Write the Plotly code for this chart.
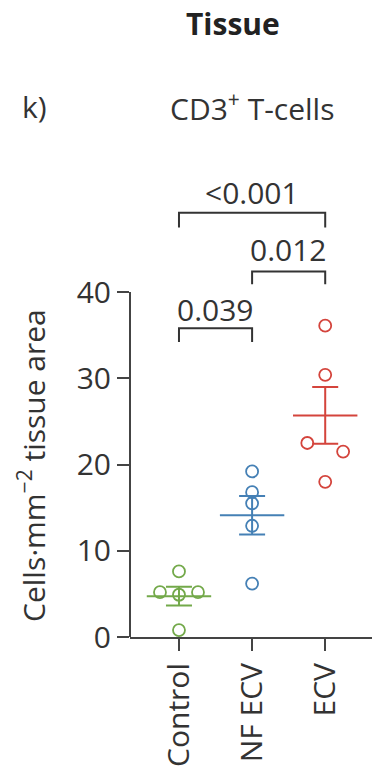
import numpy as np
import plotly.graph_objects as go

categories = ["Control", "NF ECV", "ECV"]
colors = ["#73a94a", "#4580b5", "#d4443c"]
values = [
    [7.6, 5.2, 4.9, 5.2, 0.8],
    [19.2, 16.8, 15.5, 12.9, 6.2],
    [36.1, 30.4, 22.5, 21.5, 18.0],
]
jitter = [
    [0, -0.26, 0, 0.26, 0],
    [0, 0, 0, 0, 0],
    [0, 0, -0.245, 0.245, 0],
]
y_ticks = [0, 10, 20, 30, 40]
# brackets: (from category, to category, bar height, tip height, label height, label)
brackets = [
    (0, 1, 35.8, 34.2, 38.0, "0.039"),
    (1, 2, 42.4, 40.9, 44.9, "0.012"),
    (0, 2, 49.2, 47.5, 51.5, "<0.001"),
]

FONT = "'Open Sans', 'Noto Sans', sans-serif"
FS = 30
TXT = "#333333"

fig = go.Figure()
for i, (cat, col) in enumerate(zip(categories, colors)):
    v = np.array(values[i])
    xs = [i + j for j in jitter[i]]
    mean = v.mean()
    sem = v.std(ddof=1) / np.sqrt(len(v))
    fig.add_trace(go.Scatter(
        x=xs, y=v, mode="markers",
        marker=dict(symbol="circle-open", size=12, color=col, line=dict(width=1.8, color=col)),
        showlegend=False, hoverinfo="skip"))
    fig.add_trace(go.Scatter(
        x=[i], y=[mean], mode="markers",
        marker=dict(symbol="line-ew", size=46, color=col, line=dict(width=2, color=col)),
        error_y=dict(type="data", array=[sem], color=col, thickness=2, width=13),
        showlegend=False, hoverinfo="skip"))

for a, b, top, tip, lab, text in brackets:
    fig.add_trace(go.Scatter(
        x=[a, a, b, b], y=[tip, top, top, tip], mode="lines",
        line=dict(color=TXT, width=2), showlegend=False, hoverinfo="skip"))
    fig.add_annotation(x=(a + b) / 2, y=lab, xref="x", yref="y", text=text,
                       xanchor="center", yanchor="middle",
                       showarrow=False, font=dict(size=FS, color=TXT, family=FONT))

# y axis line only up to 40
fig.add_shape(type="line", xref="paper", yref="y", x0=0, x1=0, y0=0, y1=max(y_ticks),
              line=dict(color="#444444", width=2))

fig.update_layout(
    width=372, height=775,
    margin=dict(l=130, r=0, t=180, b=138),
    plot_bgcolor="white", paper_bgcolor="white",
    font=dict(family=FONT, size=FS, color=TXT),
    xaxis=dict(range=[-0.67, 2.64], tickvals=[0, 1, 2], ticktext=categories,
               tickangle=-90, showline=True, linecolor="#444444", linewidth=2,
               ticks="outside", ticklen=12, tickwidth=2, tickcolor="#444444",
               showgrid=False, zeroline=False, tickfont=dict(size=FS, color=TXT)),
    yaxis=dict(range=[0, 53], tickvals=y_ticks, showline=False,
               ticks="outside", ticklen=12, tickwidth=2, tickcolor="#444444",
               showgrid=False, zeroline=False, tickfont=dict(size=FS, color=TXT)),
)

def label(x_px, y_px, text, **kw):
    fig.add_annotation(xref="paper", yref="paper",
                       x=(x_px - 130) / 242, y=(637 - y_px) / 457,
                       xanchor="center", yanchor="middle", showarrow=False,
                       text=text, **kw)

label(32, 466, "Cells·mm<sup>−2</sup> tissue area", textangle=-90,
      font=dict(size=FS, color=TXT, family=FONT))
label(233, 23, "<b>Tissue</b>", font=dict(size=FS, color="#222222", family=FONT))
label(34, 107, "k)", font=dict(size=FS, color=TXT, family=FONT))
label(252, 107, "CD3<sup>+</sup> T-cells", font=dict(size=FS, color=TXT, family=FONT))

fig.write_html("out.html", config={"displayModeBar": False},
               post_script="document.body.style.margin='0';")
